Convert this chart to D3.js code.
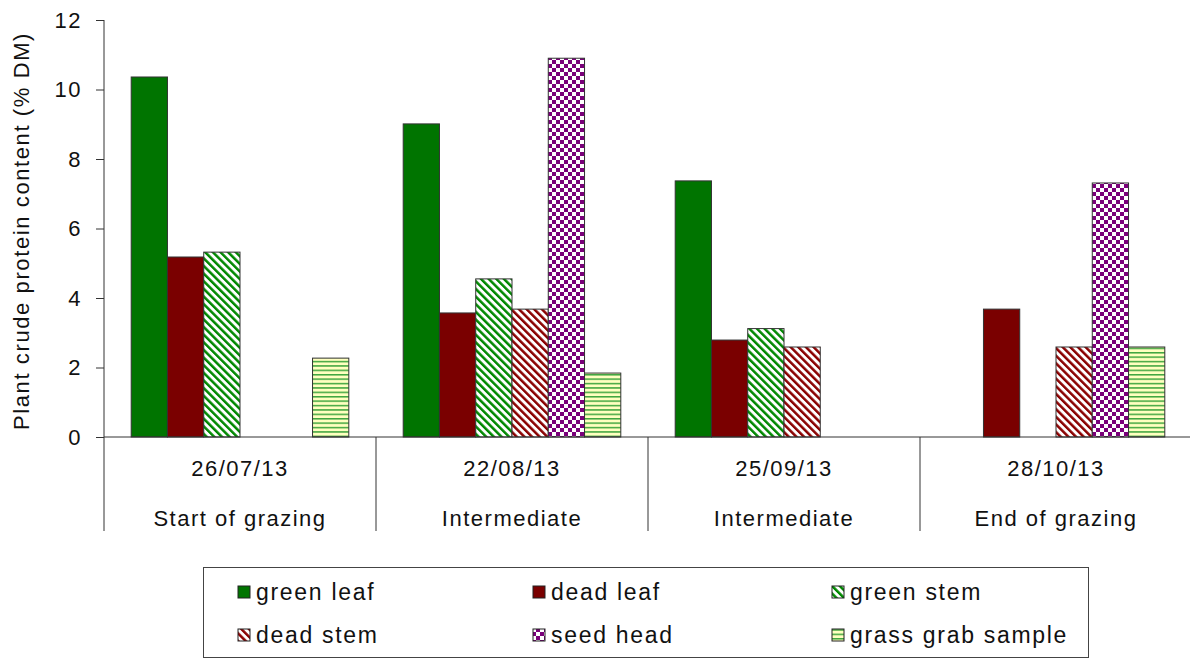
<!DOCTYPE html>
<html>
<head>
<meta charset="utf-8">
<script src="https://cdn.jsdelivr.net/npm/d3@7"></script>
<style>
  html, body { margin: 0; padding: 0; background: #fff; }
  svg { display: block; font-family: "Liberation Sans", Arial, sans-serif; }
</style>
</head>
<body>
<svg id="chart" width="1190" height="659"></svg>
<script>
// ---- data ----
const dates = ["26/07/13", "22/08/13", "25/09/13", "28/10/13"];
const stages = ["Start of grazing", "Intermediate", "Intermediate", "End of grazing"];
const series = ["green leaf", "dead leaf", "green stem", "dead stem", "seed head", "grass grab sample"];
const greenLeaf = [10.36, 9.01, 7.37, null];
const deadLeaf = [5.18, 3.57, 2.79, 3.68];
const greenStem = [5.32, 4.55, 3.12, null];
const deadStem = [null, 3.68, 2.59, 2.59];
const seedHead = [null, 10.90, null, 7.31];
const grassGrab = [2.27, 1.84, null, 2.59];
const yTicks = [0, 2, 4, 6, 8, 10, 12];

const values = [greenLeaf, deadLeaf, greenStem, deadStem, seedHead, grassGrab];
const fills = ["#007400", "#7a0000", "url(#pGreenStem)", "url(#pDeadStem)", "url(#pSeed)", "url(#pGrass)"];

const svg = d3.select("#chart");
const defs = svg.append("defs");

function diag(id, color) {
  const p = defs.append("pattern").attr("id", id).attr("patternUnits", "userSpaceOnUse")
    .attr("width", 5.4).attr("height", 5.4).attr("patternTransform", "rotate(-45)");
  p.append("rect").attr("width", 5.4).attr("height", 5.4).attr("fill", "#fff");
  p.append("rect").attr("width", 2.5).attr("height", 5.4).attr("fill", color);
}
diag("pGreenStem", "#008800");
diag("pDeadStem", "#8a0000");
{
  const p = defs.append("pattern").attr("id", "pSeed").attr("patternUnits", "userSpaceOnUse")
    .attr("width", 8).attr("height", 8);
  p.append("rect").attr("width", 8).attr("height", 8).attr("fill", "#7a007a");
  p.append("rect").attr("width", 4).attr("height", 4).attr("fill", "#fff");
  p.append("rect").attr("x", 4).attr("y", 4).attr("width", 4).attr("height", 4).attr("fill", "#fff");
}
{
  const p = defs.append("pattern").attr("id", "pGrass").attr("patternUnits", "userSpaceOnUse")
    .attr("width", 8).attr("height", 4.4);
  p.append("rect").attr("width", 8).attr("height", 4.4).attr("fill", "#ffffc0");
  p.append("rect").attr("y", 0).attr("width", 8).attr("height", 1.5).attr("fill", "#3ea53e");
}

const x0 = d3.scaleBand().domain(d3.range(dates.length)).range([104, 1192]).padding(0);
const x1 = d3.scaleBand().domain(series).range([0, x0.bandwidth()]).paddingInner(0).paddingOuter(0.75);
const y = d3.scaleLinear().domain([0, 12]).range([437, 20]);

// y axis
const yAxis = d3.axisLeft(y).tickValues(yTicks).tickSize(8).tickFormat(d3.format("d"));
const gy = svg.append("g").attr("transform", "translate(104,0)").call(yAxis);
gy.select(".domain").remove();
gy.selectAll(".tick line").attr("stroke", "#333");
gy.selectAll(".tick text").attr("font-size", 22).attr("letter-spacing", 1.5).attr("fill", "#111").attr("x", -22);

// bars
const groups = svg.append("g").selectAll("g").data(dates).join("g")
  .attr("transform", (d, i) => `translate(${x0(i)},0)`);
groups.each(function (d, i) {
  const g = d3.select(this);
  series.forEach((s, k) => {
    const v = values[k][i];
    if (v == null) return;
    g.append("rect")
      .attr("x", x1(s)).attr("width", x1.bandwidth())
      .attr("y", y(v)).attr("height", y(0) - y(v))
      .attr("fill", fills[k])
      .attr("stroke", "#333").attr("stroke-width", 1);
  });
});

// axes lines
svg.append("line").attr("x1", 104).attr("x2", 104).attr("y1", 20).attr("y2", 531).attr("stroke", "#333");
svg.append("line").attr("x1", 104).attr("x2", 1190).attr("y1", 437).attr("y2", 437).attr("stroke", "#333");
// category separators
d3.range(1, dates.length).forEach(i => {
  svg.append("line").attr("x1", x0(i)).attr("x2", x0(i)).attr("y1", 437).attr("y2", 531).attr("stroke", "#333");
});

// category labels
const lab = svg.append("g").selectAll("g").data(dates).join("g")
  .attr("transform", (d, i) => `translate(${x0(i) + x0.bandwidth() / 2},0)`);
lab.append("text").attr("y", 476).attr("text-anchor", "middle").attr("font-size", 22).attr("letter-spacing", 1.5)
  .attr("fill", "#111").text(d => d);
lab.append("text").attr("y", 526).attr("text-anchor", "middle").attr("font-size", 22).attr("letter-spacing", 1.5)
  .attr("fill", "#111").text((d, i) => stages[i]);

// y label
svg.append("text").attr("transform", "translate(29,231) rotate(-90)").attr("text-anchor", "middle")
  .attr("font-size", 22).attr("letter-spacing", 1.6).attr("fill", "#111").text("Plant crude protein content (% DM)");

// legend
svg.append("rect").attr("x", 203.5).attr("y", 567.5).attr("width", 885).attr("height", 90)
  .attr("fill", "#fff").attr("stroke", "#444").attr("stroke-width", 1);
const legCols = [238, 533, 832];
const legRows = [592, 635];
series.forEach((s, k) => {
  const cx = legCols[k % 3], cy = legRows[Math.floor(k / 3)];
  svg.append("rect").attr("x", cx).attr("y", cy - 6).attr("width", 12).attr("height", 12)
    .attr("fill", fills[k]).attr("stroke", "#222").attr("stroke-width", 1);
  svg.append("text").attr("x", cx + 18).attr("y", cy + 8).attr("font-size", 23).attr("letter-spacing", 1.7)
    .attr("fill", "#111").text(s);
});
</script>
</body>
</html>
